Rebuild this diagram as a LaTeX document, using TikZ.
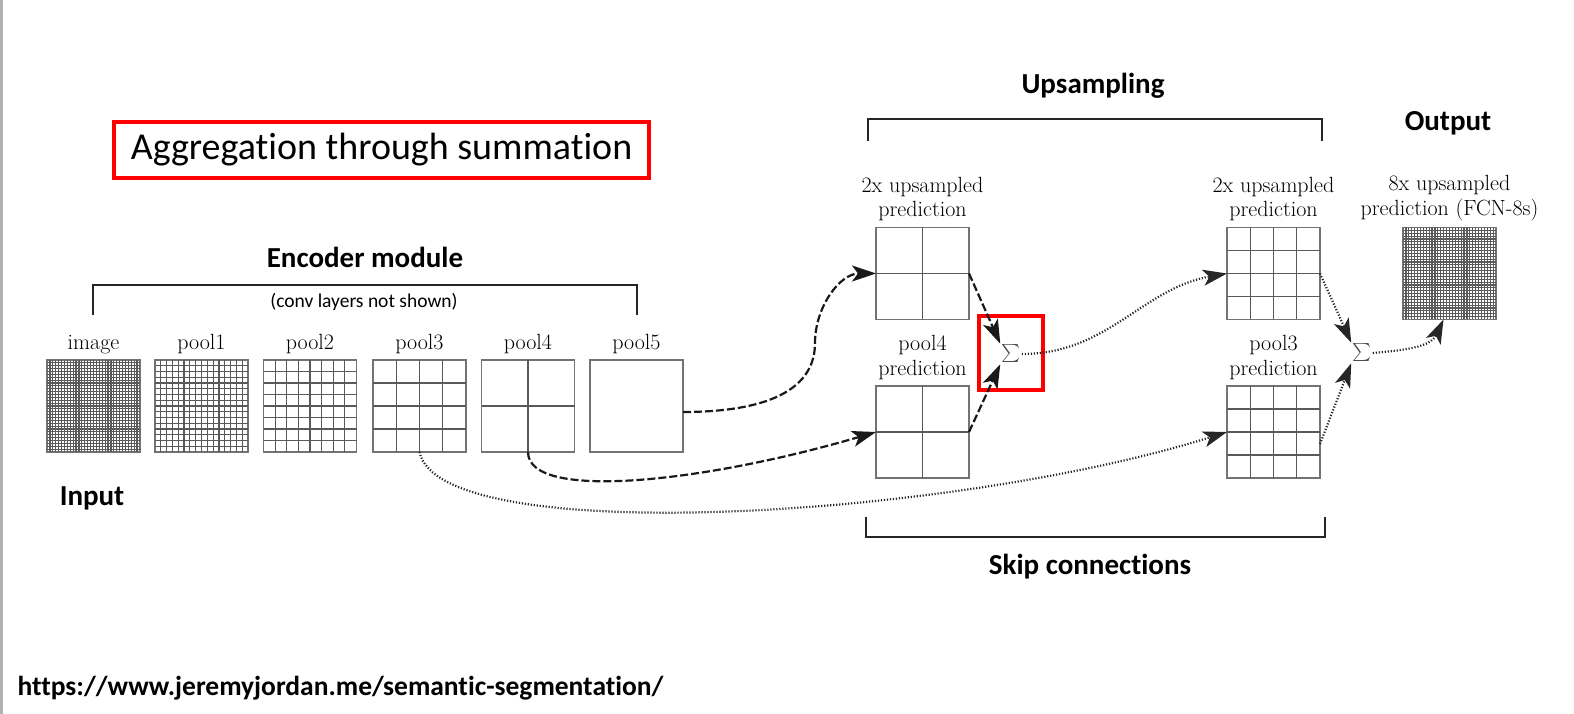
\documentclass[tikz,border=0pt]{standalone}
\usepackage{fontspec}
\newfontfamily\calib[Ligatures={NoCommon,NoRequired,NoContextual}]{Carlito}
\usetikzlibrary{
  positioning,
  calc,
  arrows.meta,
}
\newcommand\cells[2]{%
  \ifnum#2>1
  \pgfmathtruncatemacro\lastcell{#2-1}%
  \foreach \k in {1,...,\lastcell} {
    \draw[cell] ($(#1.north west)!\k/#2!(#1.north east)$) -- ($(#1.south west)!\k/#2!(#1.south east)$);
    \draw[cell] ($(#1.north west)!\k/#2!(#1.south west)$) -- ($(#1.north east)!\k/#2!(#1.south east)$);
  }%
  \fi}

\begin{document}
\begin{tikzpicture}[x=1pt,y=1pt,
  box/.style={draw=black!55, line width=1.6pt, inner sep=0pt, outer sep=0pt,
    minimum width=93pt, minimum height=92pt},
  cell/.style={draw=black!65, line width=1.2pt},
  lbl/.style={font=\fontsize{22}{25}\selectfont, align=center, inner sep=2pt, text=black},
  head/.style={font=\calib\bfseries\fontsize{29}{34}\selectfont},
  brack/.style={line width=1.3pt, black!85},
  tip/.style={-{Stealth[length=24pt,width=16pt,inset=6pt]}},
  dashline/.style={tip, line width=2.2pt, dash pattern=on 8pt off 3pt, black!90},
  dotline/.style={tip, line width=2.2pt, dash pattern=on 1.2pt off 1.8pt, black!85},
  redbox/.style={draw=red, line width=4pt},
  sumsign/.style={scale=1.8, inner sep=0.5pt, text=black!70},
]
\useasboundingbox (0,0) rectangle (1574,714);
\fill[black!30] (0,0) rectangle (3,714);

% encoder row
\foreach \name/\x/\n in {image/93.5/32, pool1/201.5/16, pool2/310/8,
    pool3/419.5/4, pool4/528/2, pool5/636.5/1} {
  \node[box] (\name) at (\x,308) {};
  \node[lbl, above=4pt of \name] (\name-lbl) {\name};
  \cells{\name}{\n}
}
\node[head] (enc) at (365,457) {Encoder module};
\draw[brack] (93,399) -- (93,429) -- (637,429) -- (637,399);
\node[font=\calib\fontsize{19.5}{23}\selectfont] (conv) at (364,412) {(conv layers not shown)};
\node[head] (input) at (92,216) {Input};

% upsampling part
\node[box] (up2a) at (922.5,440.5) {};
\node[box] (p4) at (922.5,282) {};
\node[box] (up2b) at (1273.5,440.5) {};
\node[box] (p3) at (1273.5,282) {};
\node[box] (out) at (1449.5,440.5) {};
\cells{up2a}{2} \cells{p4}{2} \cells{up2b}{4} \cells{p3}{4} \cells{out}{32}
\node[lbl, above=4pt of up2a] (up2a-lbl) {2x upsampled\\prediction};
\node[lbl, above=4pt of p4] (p4-lbl) {pool4\\prediction};
\node[lbl, above=4pt of up2b] (up2b-lbl) {2x upsampled\\prediction};
\node[lbl, above=4pt of p3] (p3-lbl) {pool3\\prediction};
\node[lbl, above=4pt of out] (out-lbl) {8x upsampled\\prediction (FCN-8s)};
\node[sumsign] (sum1) at (1011,360) {$\sum$};
\node[sumsign] (sum2) at (1362,361) {$\sum$};

\node[head] (ups) at (1093,628) {Upsampling};
\draw[brack] (868,573) -- (868,595) -- (1322,595) -- (1322,573);
\node[head] (output) at (1448,591) {Output};
\draw[brack] (866,197) -- (866,177) -- (1325,177) -- (1325,197);
\node[head] (skip) at (1090,147) {Skip connections};

% red marks
\node[redbox, minimum width=535pt, minimum height=56pt,
  font=\calib\fontsize{38}{44}\selectfont] (agg) at (381.5,564) {Aggregation through summation};
\node[redbox, minimum width=64pt, minimum height=74pt] (sumbox) at (1011,361) {};

% connections
\coordinate (bend) at (815,371);
\draw[dashline] ([yshift=-6pt]pool5.east) to[out=0,in=-90] (bend) to[out=90,in=180] (up2a.west);
\draw[dashline] (pool4.south) .. controls +(0,-50) and +(-170,-50) .. (p4.west);
\draw[dotline] (pool3.south) .. controls +(20,-97) and +(-277,-87) .. (p3.west);
\draw[dashline] (up2a.east) -- (sum1.north west);
\draw[dashline] (p4.east) -- (sum1.south west);
\draw[dotline] (sum1.east) to[out=0,in=190] (up2b.west);
\draw[dotline] (up2b.east) -- (sum2.north west);
\draw[dotline] ([yshift=-12pt]p3.east) -- (sum2.south west);
\draw[dotline] (sum2.east) to[out=5,in=-115] ([xshift=-6pt]out.south);

\node[anchor=west, font=\calib\bfseries\fontsize{27.5}{32}\selectfont] (url) at (14,26)
  {https://www.jeremyjordan.me/semantic-segmentation/};
\end{tikzpicture}
\end{document}
